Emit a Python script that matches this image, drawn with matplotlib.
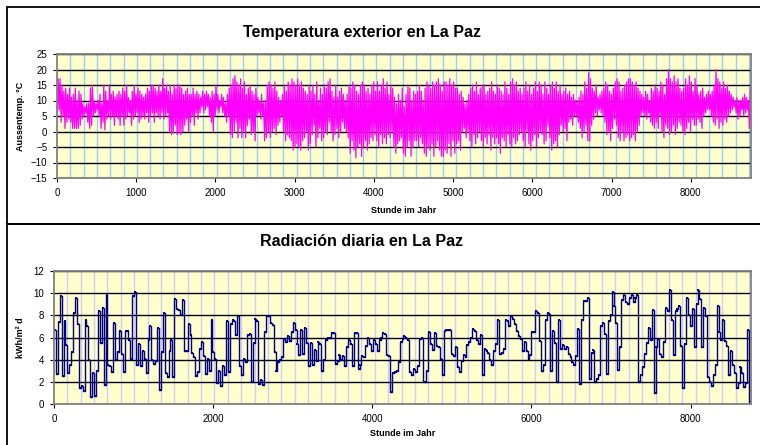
import matplotlib
matplotlib.use("Agg")
import matplotlib.pyplot as plt
from matplotlib.patches import Rectangle
from matplotlib.ticker import MultipleLocator
import numpy as np

plt.rcParams['font.family'] = ['Liberation Sans', 'DejaVu Sans']

# daily max / min outside temperature in La Paz (deg C), one row per week
t_max = [
    17, 17, 15, 13, 14, 12, 14,
    11, 12, 14, 10, 13, 12, 9,
    8, 9, 9, 14, 15, 10, 9,
    10, 12, 9, 15, 13, 10, 15,
    12, 13, 11, 12, 13, 12, 14,
    13, 15, 11, 10, 13, 15, 12,
    14, 13, 12, 11, 12, 14, 13,
    15, 15, 14, 13, 15, 13, 17,
    14, 15, 13, 15, 12, 15, 14,
    15, 15, 14, 12, 13, 14, 12,
    12, 14, 12, 13, 12, 11, 13,
    12, 13, 12, 11, 13, 12, 15,
    12, 10, 12, 11, 9, 12, 14,
    15, 17, 18, 16, 15, 17, 14,
    16, 12, 14, 15, 13, 12, 14,
    11, 10, 12, 9, 10, 15, 16,
    15, 14, 16, 13, 11, 10, 12,
    15, 13, 16, 15, 17, 16, 15,
    17, 15, 16, 14, 13, 12, 15,
    13, 15, 12, 16, 10, 14, 12,
    15, 14, 16, 17, 13, 11, 15,
    11, 13, 14, 12, 10, 12, 15,
    14, 16, 15, 13, 12, 15, 16,
    15, 13, 14, 12, 15, 16, 13,
    16, 13, 15, 17, 14, 16, 12,
    15, 14, 11, 9, 12, 10, 14,
    8, 12, 15, 14, 10, 13, 12,
    13, 15, 13, 10, 14, 16, 15,
    14, 16, 15, 16, 17, 15, 13,
    16, 16, 15, 17, 15, 16, 14,
    14, 12, 13, 11, 9, 10, 12,
    14, 15, 13, 16, 12, 14, 15,
    15, 12, 13, 14, 16, 13, 12,
    15, 14, 13, 12, 16, 14, 12,
    16, 17, 15, 16, 13, 14, 12,
    14, 16, 13, 15, 12, 14, 16,
    13, 16, 15, 12, 16, 14, 12,
    15, 16, 14, 16, 13, 15, 12,
    13, 14, 12, 13, 11, 12, 10,
    10, 11, 13, 12, 16, 14, 19,
    17, 14, 13, 15, 11, 12, 13,
    14, 16, 15, 13, 12, 14, 16,
    17, 16, 13, 14, 15, 16, 17,
    17, 16, 15, 16, 14, 13, 12,
    11, 13, 12, 10, 14, 13, 15,
    14, 13, 16, 15, 12, 17, 20,
    17, 16, 18, 16, 17, 14, 13,
    14, 17, 15, 18, 16, 13, 17,
    15, 12, 13, 14, 11, 12, 13,
    12, 13, 15, 20, 17, 16, 14,
    16, 14, 15, 13, 12, 11, 10,
    11, 10, 10, 11, 12, 11, 10,
    14,
]
t_min = [
    4.5, 7, 3, 5, 1, 3, 4,
    3, 1, 1, 1, 1, 2, 4,
    5, 6, 3, 1, 2, 5, 6,
    7, 5, 1, 3, 0.5, 4, 5,
    4, 5, 2, 5, 4, 2, 5,
    2, 4, 5, 6, 2, 4, 5,
    6, 3, 4, 5, 4, 6, 3,
    5, 6, 3, 6, 5, 4, 6,
    4, 5, 6, 0, -1, -0.5, 2,
    -1, -0.5, -1, 0, 2, 4, 0,
    3, 5, 2, 6, 4, 6, 8,
    6, 7, 8, 5, 3, 0, 5,
    7, 6, 8, 6, 5, 3, 5,
    -1, -2, 0, 3, -2, 1, -2,
    0, -2, 2, 4, -1, 0, -3,
    5, 6, 4, 5, -3, -2, 0,
    -2, 0, 1, -1, 2, 3, 5,
    0, -3, -1, -2, -3, -6, -5,
    -4, -5, -6, -3, -2, 0, -6,
    -4, -1, 2, -5, -2, 1, -3,
    -2, 0, -1, 3, 0, -3, -1,
    1, -2, 0, 3, 1, 0, -2,
    -7, -3, -6, -8.5, -5, -4, -8,
    -5, -3, -6, -4, -2, -3, -1,
    -3, -5, -1, -4, -2, -4, -1,
    -2, 0, -5, -7, -4, -3, -2,
    -7, -8, -5, -3, -8, -5, -3,
    -3, -5, -2, -4, -7, -8, -5,
    -6, -4, -8, -5, -3, -6, -8,
    -8, -6, -7, -4, -8, -3, -7,
    -4, -3, -6, 0, 1, -2, 0,
    -3, -5, -1, -4, -2, 0, -3,
    -5, -2, -4, -1, -6, -2, -4,
    -2, -4, -7, -2, -3, -5, -1,
    -4, -5, -2, -4, -3, -1, 0,
    -3, -5, 0, -4, -6, -3, -1,
    -5, -2, 0, -1, -4, -3, 2,
    -2, -6, -4, -3, -5, -1, 2,
    0, 1, -3, 3, 4, 2, 5,
    5, 3, 1, -2, 0, 2, -3,
    -3, 2, 4, 6, 5, 7, 6,
    5, 3, -1, 0, -3, 1, 4,
    2, -2, -3, 0, -3, -2, -1,
    -3, -2, -1, -3, 0, 2, 5,
    6, 5, 4, 6, 3, 2, 1,
    3, 1, 5, 0, -2, 2, 1,
    -1, 0, 2, -1, 1, 3, 2,
    0, -1, 1, 3, 0, 4, 2,
    2, 4, 3, 1, 5, 6, 7,
    7, 5, 3, 2, 4, 1, 3,
    2, 4, 3, 5, 6, 7, 8,
    6, 4, 5, 7, 5, 6, 7,
    1,
]

# daily global radiation (kWh/m2 d), one row per week
rad_daily = [
    6.7, 2.7, 7.4, 9.7, 2.5, 7.5, 5.3,
    2.8, 3.5, 4.7, 8.2, 9.6, 7.2, 1.4,
    1.6, 1.2, 7.6, 7.0, 4.0, 0.6, 2.8,
    0.7, 3.0, 8.4, 5.5, 8.7, 1.7, 9.8,
    3.5, 3.4, 2.9, 7.3, 4.0, 4.7, 6.6,
    4.5, 2.9, 6.6, 6.6, 5.8, 4.1, 9.7,
    10.1, 3.5, 5.4, 3.4, 4.8, 4.1, 2.8,
    5.8, 7.0, 4.0, 3.6, 3.9, 6.9, 1.3,
    4.7, 8.2, 2.8, 2.4, 4.8, 5.8, 2.4,
    9.5, 8.6, 8.5, 8.0, 9.4, 4.8, 4.8,
    7.2, 6.2, 4.6, 4.2, 2.5, 2.9, 5.0,
    5.6, 4.3, 2.7, 4.1, 3.0, 7.6, 4.7,
    4.1, 1.9, 3.0, 1.6, 3.4, 2.6, 7.5,
    2.9, 7.2, 7.6, 7.5, 6.2, 7.9, 3.4,
    2.6, 4.1, 3.8, 6.2, 6.3, 2.0, 5.5,
    7.7, 7.5, 1.8, 2.2, 1.7, 6.5, 7.9,
    7.9, 7.3, 7.1, 4.7, 3.0, 3.8, 4.0,
    4.2, 5.9, 5.6, 6.1, 5.7, 6.5, 7.3,
    6.7, 5.4, 4.4, 6.7, 4.5, 6.9, 5.5,
    3.4, 5.5, 3.5, 4.9, 3.9, 5.6, 5.4,
    3.0, 4.0, 5.8, 6.0, 6.0, 6.4, 6.4,
    3.6, 3.9, 4.4, 4.0, 4.3, 3.4, 5.1,
    5.8, 5.4, 3.4, 6.4, 6.4, 3.2, 3.5,
    4.3, 4.2, 5.2, 6.0, 5.4, 4.8, 5.8,
    5.4, 4.8, 5.8, 6.0, 6.4, 6.3, 4.4,
    4.3, 1.1, 2.8, 2.9, 3.0, 3.8, 5.6,
    5.9, 6.1, 6.0, 5.8, 2.9, 2.6, 3.2,
    2.9, 3.4, 5.9, 6.0, 2.0, 2.0, 3.0,
    6.5, 5.4, 4.9, 6.4, 5.2, 5.1, 4.1,
    2.6, 6.6, 6.7, 6.7, 6.7, 4.5, 4.3,
    5.1, 3.3, 2.9, 3.9, 4.4, 4.2, 5.3,
    5.6, 6.0, 6.8, 6.6, 5.8, 5.4, 6.2,
    2.6, 5.0, 4.8, 4.6, 4.0, 3.5, 4.8,
    5.4, 7.6, 4.5, 4.6, 5.0, 7.6, 7.5,
    7.0, 7.9, 7.7, 7.2, 6.6, 6.1, 5.9,
    4.8, 5.6, 4.8, 4.1, 4.4, 6.5, 6.5,
    8.4, 8.2, 5.7, 3.0, 3.5, 7.6, 8.2,
    8.0, 3.0, 6.6, 5.5, 2.0, 7.6, 5.0,
    5.3, 5.0, 5.1, 4.5, 4.2, 3.8, 3.5,
    4.3, 6.8, 1.8, 7.6, 9.3, 9.3, 9.6,
    2.3, 4.6, 4.9, 2.0, 2.3, 2.6, 7.0,
    7.3, 6.3, 2.7, 7.5, 8.0, 10.1, 8.8,
    7.3, 3.1, 5.1, 9.4, 9.8, 9.2, 9.0,
    9.6, 9.8, 9.2, 9.6, 9.8, 2.0, 2.6,
    3.3, 4.5, 5.5, 6.9, 5.8, 8.5, 1.0,
    5.1, 5.9, 4.5, 4.2, 5.6, 8.7, 8.4,
    10.3, 7.6, 4.4, 8.4, 8.6, 8.8, 5.2,
    1.4, 5.4, 9.6, 8.0, 7.0, 8.6, 5.1,
    9.0, 10.3, 9.5, 5.1, 8.7, 7.9, 2.4,
    2.0, 1.6, 2.6, 3.5, 8.8, 6.5, 5.8,
    7.6, 5.7, 5.2, 2.6, 4.8, 3.5, 2.8,
    1.4, 1.9, 3.3, 2.8, 1.5, 1.9, 6.7,
    0.2,
]

temp_yticks = [-15, -10, -5, 0, 5, 10, 15, 20, 25]
rad_yticks = [0, 2, 4, 6, 8, 10, 12]

days = np.arange(len(rad_daily))
# coldest around early morning, warmest early afternoon
t_hours = np.column_stack([days * 24 + 5, days * 24 + 14]).ravel()
t_vals = np.column_stack([t_min, t_max]).ravel()

fig = plt.figure(figsize=(7.6, 4.45), dpi=100)

# chart area frames like the spreadsheet original
fig.add_artist(Rectangle((7 / 760, 1 - 224 / 445), 1.0, 217 / 445,
                         transform=fig.transFigure, fill=False, lw=1.3, ec='black'))
fig.add_artist(Rectangle((7 / 760, -0.02), 1.0, 221 / 445 + 0.02,
                         transform=fig.transFigure, fill=False, lw=1.3, ec='black'))

ax1 = fig.add_axes([57 / 760, 1 - 178 / 445, 694 / 760, 124 / 445])
ax2 = fig.add_axes([54 / 760, 1 - 404 / 445, 697 / 760, 133 / 445])


def style_axes(ax, vcolor):
    ax.set_facecolor('#FFFFCC')
    ax.set_xlim(0, 8760)
    ax.xaxis.set_minor_locator(MultipleLocator(168))
    ax.grid(which='minor', axis='x', color=vcolor, lw=1)
    ax.grid(which='major', axis='y', color='black', lw=1)
    ax.grid(which='major', axis='x', visible=False)
    ax.tick_params(which='minor', length=0)
    ax.tick_params(which='major', labelsize=7, length=3, width=0.8, pad=4)
    ax.set_axisbelow(True)
    for s in ax.spines:
        ax.spines[s].set_color('#808080')
        ax.spines[s].set_linewidth(1.3)


style_axes(ax1, '#99CCFF')
ax1.plot(t_hours, t_vals, color='#FF00FF', lw=0.9)
ax1.set_ylim(-15, 25)
ax1.set_yticks(temp_yticks)
ax1.set_xticks(range(0, 8001, 1000))
ax1.set_ylabel('Aussentemp. °C', fontsize=6.5, fontweight='bold', labelpad=4)
ax1.set_xlabel('Stunde im Jahr', fontsize=6.5, fontweight='bold', labelpad=6)

style_axes(ax2, '#CCCCFF')
ax2.plot(days * 24 + 12, rad_daily, color='#000080', lw=1,
         drawstyle='steps-mid', marker='s', ms=1.6, mew=0)
ax2.set_ylim(0, 12)
ax2.set_yticks(rad_yticks)
ax2.set_xticks(range(0, 8001, 2000))
ax2.set_ylabel('kWh/m² d', fontsize=6.5, fontweight='bold', labelpad=6)
ax2.set_xlabel('Stunde im Jahr', fontsize=6.5, fontweight='bold', labelpad=4)

fig.text(362 / 760, 1 - 32 / 445, 'Temperatura exterior en La Paz',
         ha='center', va='center', fontsize=11.5, fontweight='bold')
fig.text(362 / 760, 1 - 242 / 445, 'Radiación diaria en La Paz',
         ha='center', va='center', fontsize=11.5, fontweight='bold')

fig.savefig('out.png', dpi=100)
